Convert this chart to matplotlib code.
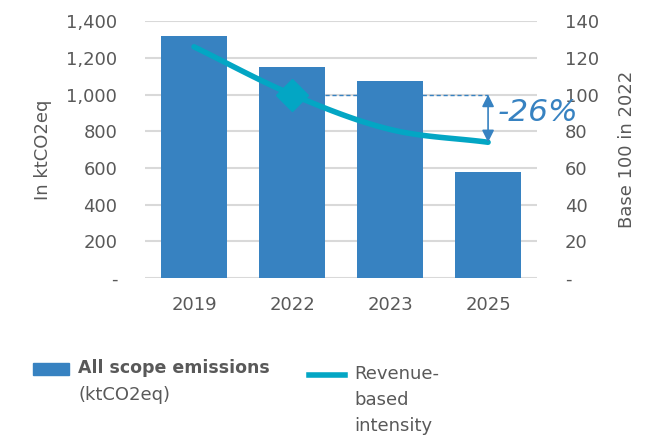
import numpy as np
import matplotlib.pyplot as plt
from matplotlib.patches import Rectangle
from matplotlib.lines import Line2D

years = ["2019", "2022", "2023", "2025"]
emissions = [1320, 1150, 1075, 578]
intensity = [126, 100, 81, 74]
left_ticks = [0, 200, 400, 600, 800, 1000, 1200, 1400]
left_labels = ["-", "200", "400", "600", "800", "1,000", "1,200", "1,400"]
right_ticks = [0, 20, 40, 60, 80, 100, 120, 140]
right_labels = ["-", "20", "40", "60", "80", "100", "120", "140"]
reduction_label = "-26%"

BAR = "#3782C1"
LINE = "#03A6C4"
TXT = "#595959"
GRID = "#D9D9D9"
FS = 13
BAR_W = 0.67

plt.rcParams['font.family'] = ['DejaVu Sans']

fig = plt.figure(figsize=(6.59, 4.4), dpi=100)
ax = fig.add_axes([0.22, 0.368, 0.595, 0.584])
ax2 = ax.twinx()

x = np.arange(len(years))
ax.bar(x, emissions, width=BAR_W, color=BAR, zorder=2)
ax.set_xlim(-0.5, 3.5)
ax.set_ylim(0, 1400)
ax.set_yticks(left_ticks)
ax.set_yticklabels(left_labels)
ax.set_xticks(x)
ax.set_xticklabels(years)
ax.grid(axis='y', color=GRID, linewidth=1.5, zorder=0)
ax.set_axisbelow(True)
for a in (ax, ax2):
    for s in a.spines.values():
        s.set_visible(False)
    a.tick_params(length=0, labelsize=FS, labelcolor=TXT)
ax.tick_params(axis='y', which='major', pad=20)
ax.tick_params(axis='x', which='major', pad=13)
ax2.tick_params(axis='y', which='major', pad=20)
ax.set_ylabel("In ktCO2eq", fontsize=FS, color=TXT, labelpad=10)

ax2.set_ylim(0, 140)
ax2.set_yticks(right_ticks)
ax2.set_yticklabels(right_labels)
ax2.set_ylabel("Base 100 in 2022", fontsize=FS, color=TXT, labelpad=14)

# smooth curve through the data points (Catmull-Rom)
xp = x.astype(float)
yp = np.array(intensity, dtype=float)
pts = np.column_stack([xp, yp])
ext = np.vstack([2 * pts[0] - pts[1], pts, 2 * pts[-1] - pts[-2]])
curve = []
for i in range(1, len(ext) - 2):
    p0, p1, p2, p3 = ext[i - 1], ext[i], ext[i + 1], ext[i + 2]
    for t in np.linspace(0, 1, 30):
        c = 0.5 * ((2 * p1) + (-p0 + p2) * t + (2 * p0 - 5 * p1 + 4 * p2 - p3) * t ** 2
                   + (-p0 + 3 * p1 - 3 * p2 + p3) * t ** 3)
        curve.append(c)
curve = np.array(curve)
ax2.plot(curve[:, 0], curve[:, 1], color=LINE, linewidth=4, solid_capstyle='round', zorder=3)
ax2.plot([xp[1]], [yp[1]], marker='D', markersize=16, color=LINE, zorder=4)

# reference dashed line and arrow
ax2.plot([xp[1] + BAR_W / 2, xp[3]], [yp[1], yp[1]], linestyle=(0, (3, 2)), color=BAR,
         linewidth=1, zorder=3)
ax2.annotate("", xy=(xp[3], yp[3]), xytext=(xp[3], yp[1]),
             arrowprops=dict(arrowstyle='<|-|>', color=BAR, lw=1.2, mutation_scale=18,
                             shrinkA=0, shrinkB=0), zorder=5)
ax2.text(xp[3] + 0.1, 90, reduction_label, color=BAR, fontsize=22.5,
         style='italic', va='center', ha='left', zorder=6)

# legend
fig.patches.append(Rectangle((33 / 659, 1 - 375 / 440), 36 / 659, 12 / 440,
                             transform=fig.transFigure, color=BAR))
fig.text(78 / 659, 1 - 368 / 440, "All scope emissions", fontsize=12.5, fontweight='bold',
         color=TXT, va='center', ha='left')
fig.text(78 / 659, 1 - 395 / 440, "(ktCO2eq)", fontsize=FS, color=TXT, va='center', ha='left')
fig.lines.append(Line2D([309 / 659, 345 / 659], [1 - 375 / 440, 1 - 375 / 440],
                        transform=fig.transFigure, color=LINE, linewidth=4))
fig.text(354 / 659, 1 - 400 / 440, "Revenue-\nbased\nintensity", fontsize=FS, color=TXT,
         va='center', ha='left', linespacing=1.6)

fig.savefig("out.png", dpi=100)
